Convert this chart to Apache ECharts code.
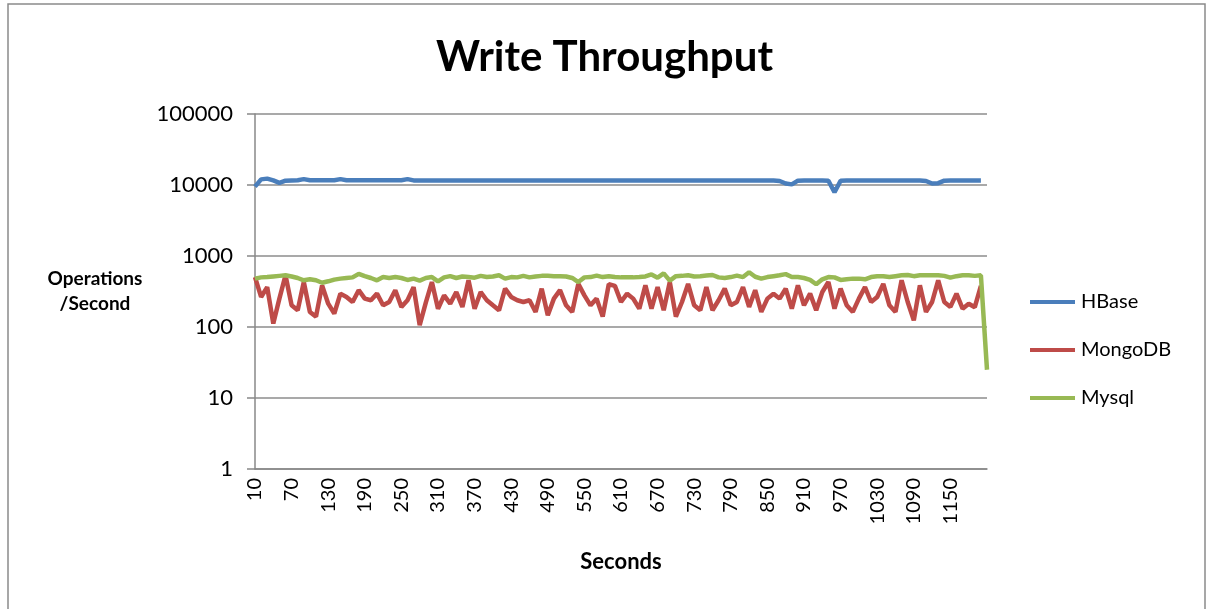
<!DOCTYPE html>
<html>
<head>
<meta charset="utf-8">
<script src="https://cdn.jsdelivr.net/npm/echarts@6/dist/echarts.min.js"></script>
<style>
html,body{margin:0;padding:0;background:#fff;}
#chart{width:1209px;height:609px;}
</style>
</head>
<body>
<div id="chart"></div>
<script>
// Categories (seconds)
var seconds = [10,20,30,40,50,60,70,80,90,100,110,120,130,140,150,160,170,180,190,200,
210,220,230,240,250,260,270,280,290,300,310,320,330,340,350,360,370,380,390,400,
410,420,430,440,450,460,470,480,490,500,510,520,530,540,550,560,570,580,590,600,
610,620,630,640,650,660,670,680,690,700,710,720,730,740,750,760,770,780,790,800,
810,820,830,840,850,860,870,880,890,900,910,920,930,940,950,960,970,980,990,1000,
1010,1020,1030,1040,1050,1060,1070,1080,1090,1100,1110,1120,1130,1140,1150,1160,1170,1180,1190,1200,
1210];

var hbase = [9500,12000,12300,11600,10700,11500,11600,11700,12100,11700,
11700,11700,11700,11700,12100,11700,11700,11700,11700,11700,
11700,11700,11700,11700,11700,12100,11600,11600,11600,11600,
11600,11600,11600,11600,11600,11600,11600,11600,11600,11600,
11600,11600,11600,11600,11600,11600,11600,11600,11600,11600,
11600,11600,11600,11600,11600,11600,11600,11600,11600,11600,
11600,11600,11600,11600,11600,11600,11600,11600,11600,11600,
11600,11600,11600,11600,11600,11600,11600,11600,11600,11600,
11600,11600,11600,11600,11600,11600,11400,10500,10200,11500,
11600,11600,11600,11600,11500,7900,11500,11600,11600,11600,
11600,11600,11600,11600,11600,11600,11600,11600,11600,11600,
11400,10500,10600,11500,11600,11600,11600,11600,11600,11600];

var mongodb = [505,265,365,112,251,535,202,172,430,163,
140,386,213,155,295,265,225,330,251,238,
295,202,225,330,192,238,365,106,220,430,
181,279,213,311,192,455,181,311,238,202,
172,347,265,238,225,238,163,347,146,251,
330,202,163,405,279,202,251,140,400,380,
225,295,251,181,386,181,365,172,430,140,
225,405,202,172,365,172,238,347,202,225,
365,192,330,163,251,295,251,347,181,386,
202,295,172,311,430,181,347,202,163,251,
365,225,265,405,202,163,455,225,124,386,
163,225,455,225,192,295,181,213,190,380];

var mysql = [480,500,505,515,525,535,515,490,455,470,
455,420,440,465,480,490,500,560,520,490,
455,505,490,505,490,460,480,450,490,505,
440,500,520,490,515,505,495,525,505,515,
535,480,505,500,525,500,515,525,525,520,
520,515,490,430,500,505,530,505,520,505,
500,500,500,505,515,550,495,570,450,520,
525,535,515,520,530,540,500,490,505,530,
505,590,510,480,505,520,535,555,505,505,
490,460,400,470,505,500,460,470,480,480,
470,505,520,520,505,520,535,540,520,535,
535,535,535,525,495,520,535,535,525,535,
25];

var yTicks = [1,10,100,1000,10000,100000];

var FONT = 'Lato, "Liberation Sans", sans-serif';
var chart = echarts.init(document.getElementById('chart'));
chart.setOption({
  animation:false,
  backgroundColor:'#fff',
  graphic:[{type:'rect',shape:{x:8,y:4,width:1197,height:640},style:{fill:'none',stroke:'#8a8a8a',lineWidth:1.5},silent:true,z:-1}],
  title:[
    {text:'Write Throughput',left:'center',top:31,textStyle:{fontFamily:FONT,fontSize:42,fontWeight:'bold',color:'#000'}},
    {text:'Operations\n/Second',left:90,top:261,textAlign:'center',textStyle:{fontFamily:FONT,fontSize:19,fontWeight:'bold',color:'#000',lineHeight:25}}
  ],
  legend:{
    orient:'vertical',left:1025,top:287,itemGap:28,icon:'rect',itemWidth:45,itemHeight:4,
    textStyle:{fontFamily:FONT,fontSize:20,color:'#000',lineHeight:20,padding:[0,0,0,1]},
    data:['HBase','MongoDB','Mysql']
  },
  grid:{left:255,right:222,top:114,bottom:140,containLabel:false},
  xAxis:{
    type:'category',data:seconds,boundaryGap:false,
    name:'Seconds',nameLocation:'middle',nameGap:82,
    nameTextStyle:{fontFamily:FONT,fontSize:22,fontWeight:'bold',color:'#000'},
    axisLine:{lineStyle:{color:'#888',width:1.5}},
    axisTick:{show:false},
    axisLabel:{rotate:90,margin:9,fontFamily:FONT,fontSize:20,color:'#000',
      interval:function(i){return i%6===0 && i<=114;}},
    splitLine:{show:false}
  },
  yAxis:{
    type:'log',logBase:10,min:yTicks[0],max:yTicks[yTicks.length-1],
    axisLine:{show:true,lineStyle:{color:'#888',width:1.5}},
    axisTick:{show:true,length:8,lineStyle:{color:'#888',width:1.5}},
    axisLabel:{margin:22,fontFamily:FONT,fontSize:22,color:'#000',formatter:function(v){return String(Math.round(v));}},
    splitLine:{show:true,lineStyle:{color:'#8c8c8c',width:1.5}},
    minorTick:{show:false},minorSplitLine:{show:false}
  },
  series:[
    {name:'HBase',type:'line',data:hbase,showSymbol:false,lineStyle:{width:4.5,color:'#4A7EBB'},itemStyle:{color:'#4A7EBB'}},
    {name:'MongoDB',type:'line',data:mongodb,showSymbol:false,lineStyle:{width:4.5,color:'#BE4B48'},itemStyle:{color:'#BE4B48'}},
    {name:'Mysql',type:'line',data:mysql,showSymbol:false,lineStyle:{width:4.5,color:'#98B954'},itemStyle:{color:'#98B954'}}
  ]
});
</script>
</body>
</html>
